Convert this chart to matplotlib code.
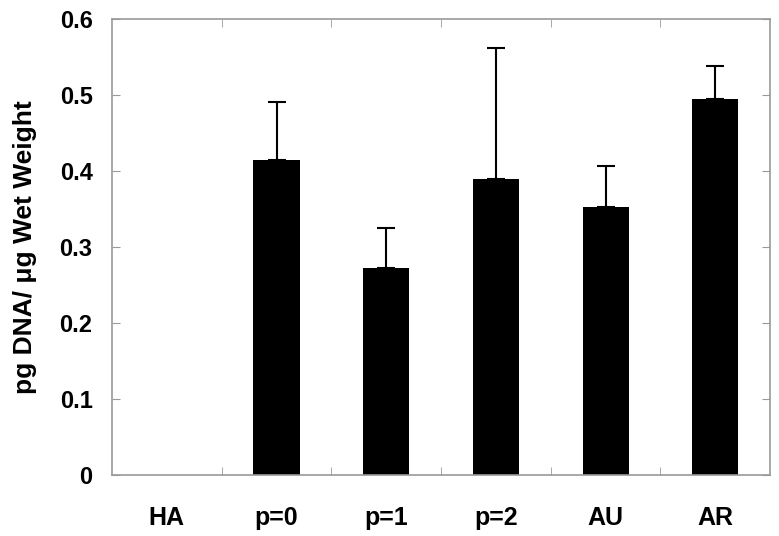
import numpy as np
import matplotlib.pyplot as plt

categories = ["HA", "p=0", "p=1", "p=2", "AU", "AR"]
dna_per_weight = [0.0, 0.414, 0.272, 0.390, 0.352, 0.495]
errors = [0.0, 0.077, 0.053, 0.172, 0.055, 0.043]
y_ticks = [0, 0.1, 0.2, 0.3, 0.4, 0.5, 0.6]
y_tick_labels = ["0", "0.1", "0.2", "0.3", "0.4", "0.5", "0.6"]

plt.rcParams['font.family'] = ['Liberation Sans', 'DejaVu Sans']
plt.rcParams['font.weight'] = 'bold'

fig = plt.figure(figsize=(7.79, 5.36), dpi=100)
ax = fig.add_axes([0.1438, 0.1138, 0.8447, 0.8507])

x = np.arange(len(categories))
heights = [v if v > 0 else np.nan for v in dna_per_weight]
ax.bar(x, heights, width=0.42, color='black')
ax.errorbar(x, heights, yerr=[np.zeros(len(errors)), errors], fmt='none',
            ecolor='black', elinewidth=1.5, capsize=6.5, capthick=1.5)

ax.set_xlim(-0.5, len(categories) - 0.5)
ax.set_ylim(0, 0.6)

spine_color = '#999999'
for s in ax.spines.values():
    s.set_color(spine_color)
    s.set_linewidth(1.2)

# category labels centred, ticks between categories
ax.set_xticks(x)
ax.set_xticklabels(categories, fontsize=18, fontweight='bold')
ax.tick_params(axis='x', which='major', length=0, pad=22)
ax.set_xticks(np.arange(0.5, len(categories) - 0.5), minor=True)
ax.tick_params(axis='x', which='minor', direction='in', length=6,
               color=spine_color, top=True, bottom=True)

ax.set_yticks(y_ticks)
ax.set_yticklabels(y_tick_labels, fontsize=17, fontweight='bold')
ax.tick_params(axis='y', direction='in', length=6, color=spine_color,
               left=True, right=True, pad=14)

ax.set_ylabel("pg DNA/ \u03bcg Wet Weight", fontsize=19, fontweight='bold', labelpad=16)

fig.savefig("out.png", dpi=100)
